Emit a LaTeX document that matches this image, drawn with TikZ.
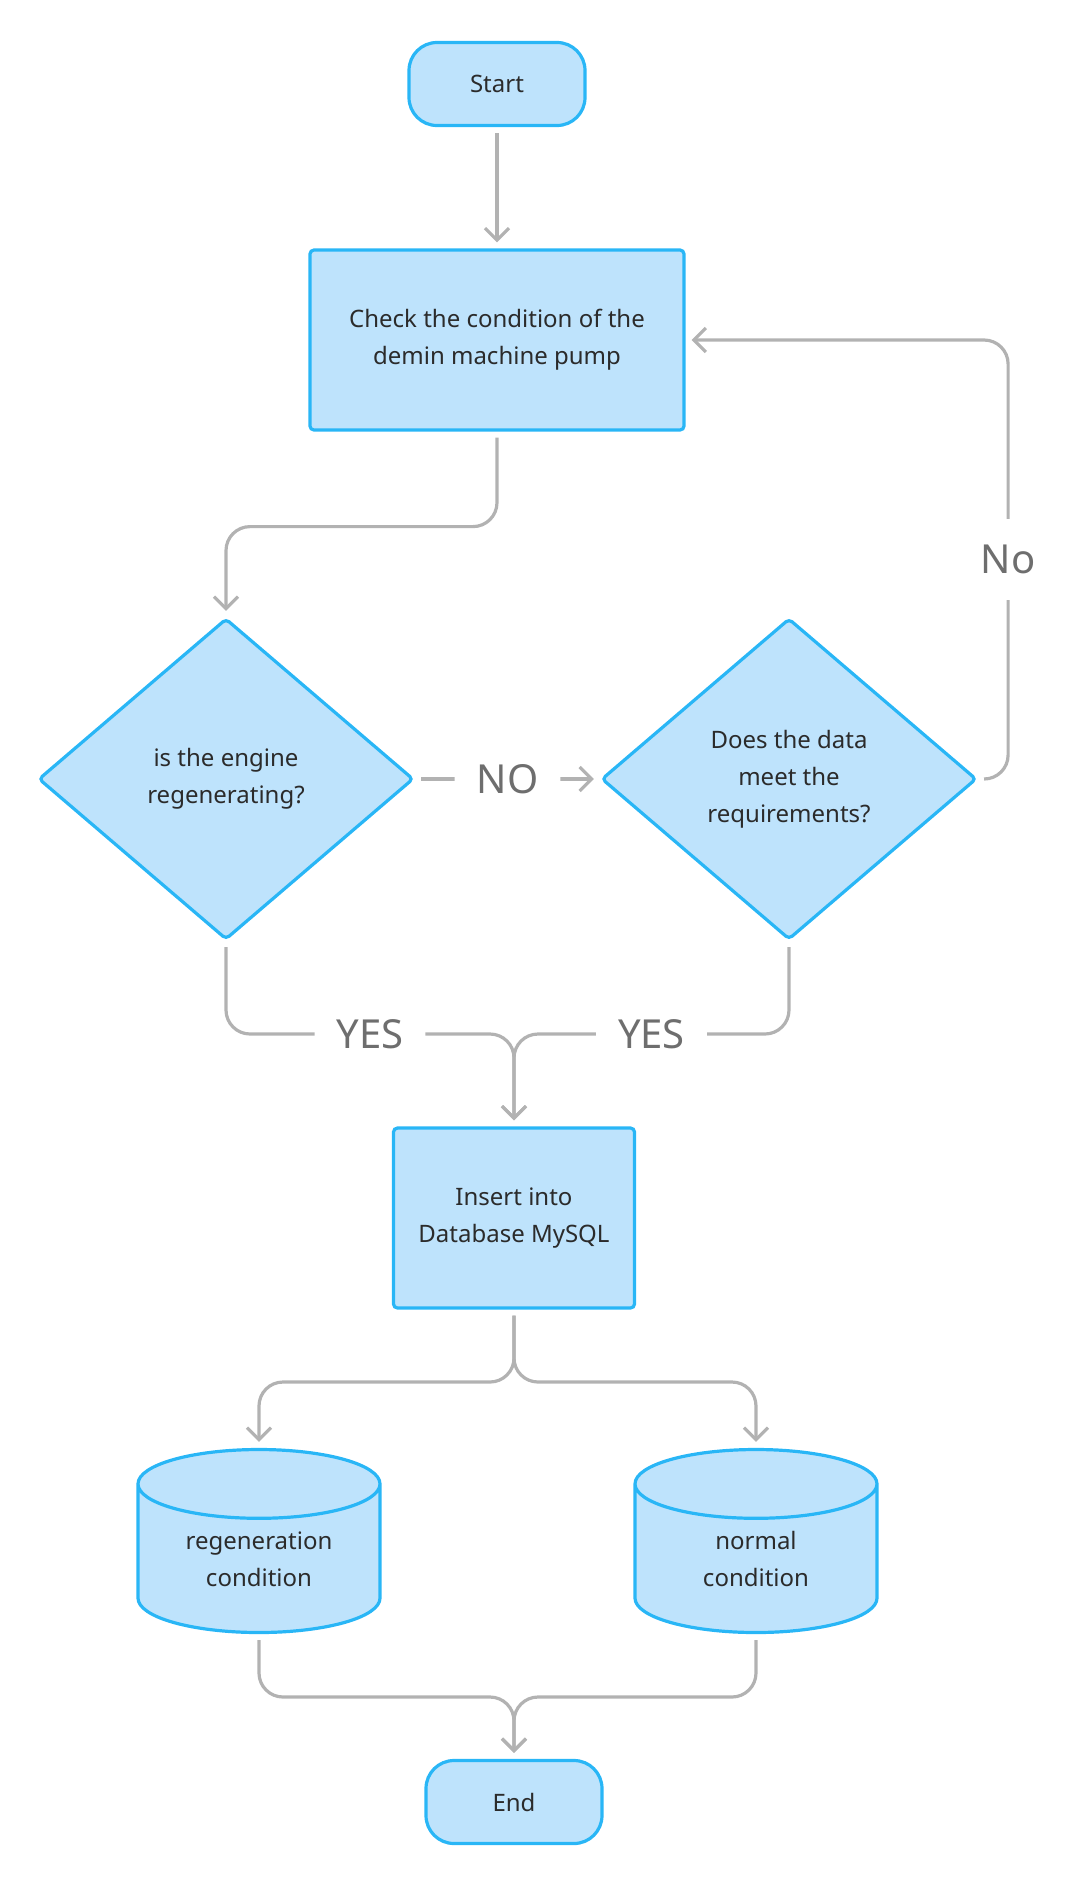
\documentclass[tikz,border=0pt]{standalone}
\usepackage{fontspec}
\setmainfont{Noto Sans}
\usetikzlibrary{shapes.geometric,arrows.meta}
\definecolor{boxblue}{HTML}{BEE3FC}
\definecolor{edgeblue}{HTML}{29B6F6}
\definecolor{linegray}{HTML}{B2B2B2}
\definecolor{labelgray}{HTML}{6E6E6E}
\definecolor{textdark}{HTML}{2B2B2B}
\begin{document}
\begin{tikzpicture}[x=0.5pt, y=-0.5pt,
  base/.style={draw=edgeblue, fill=boxblue, line width=1.6pt, text=textdark, align=center,
    font=\fontsize{12}{18.5}\selectfont, inner sep=0pt},
  terminal/.style={base, rounded corners=14pt, minimum width=88pt, minimum height=41.5pt},
  process/.style={base, rounded corners=2pt},
  decision/.style={base, diamond, minimum width=187.5pt, minimum height=160.5pt, rounded corners=2pt},
  store/.style={base, cylinder, shape border rotate=90, aspect=0.43, minimum width=121pt,
    minimum height=91.5pt, text width=80pt, text height=9.1pt, text depth=18.5pt,
    anchor=shape center, cylinder uses custom fill, cylinder body fill=boxblue,
    cylinder end fill=boxblue},
  flow/.style={draw=linegray, line width=1.6pt, rounded corners=12pt,
    -{Straight Barb[length=6pt,width=12pt]}, shorten >=3pt, shorten <=3pt},
  lbl/.style={fill=white, text=labelgray, font=\fontsize{20}{24}\selectfont, inner xsep=11pt, inner ysep=13pt}]
  \useasboundingbox (0,0) rectangle (1073,1880);

  % nodes
  \node[terminal] (start) at (497,84) {Start};
  \node[process, minimum width=187pt, minimum height=90pt] (check) at (497,340)
    {Check the condition of the\\demin machine pump};
  \node[decision] (engine) at (226,779) {is the engine\\regenerating?};
  \node[decision] (data) at (789,779) {Does the data\\meet the\\requirements?};
  \node[process, minimum width=120.5pt, minimum height=90pt] (insert) at (514,1218)
    {Insert into\\Database MySQL};
  \node[store] (regen) at (259,1541) {regeneration\\condition};
  \node[store] (normal) at (756,1541) {normal\\condition};
  \node[terminal] (end) at (514,1802) {End};

  \coordinate (join) at (514,1034);
  \coordinate (split) at (514,1382);
  \coordinate (merge) at (514,1697);

  % connectors
  \draw[flow] (start) -- (check);
  \draw[flow] (check.south) -- ++(0,95) -| (engine.north);
  \draw[flow] (engine.east) -- node[lbl]{NO} (data.west);
  \draw[flow] (data.east) -- ++(30,0) |- node[lbl, pos=0.25]{No} (check.east);
  \draw[flow] (engine.south) |- node[lbl, pos=0.75]{YES} (join) -- (insert.north);
  \draw[flow] (data.south) |- node[lbl, pos=0.75]{YES} (join) -- (insert.north);
  \draw[flow] (insert.south) -- (split) -| (regen.north);
  \draw[flow] (insert.south) -- (split) -| (normal.north);
  \draw[flow] (regen.south) |- (merge) -- (end.north);
  \draw[flow] (normal.south) |- (merge) -- (end.north);
\end{tikzpicture}
\end{document}
